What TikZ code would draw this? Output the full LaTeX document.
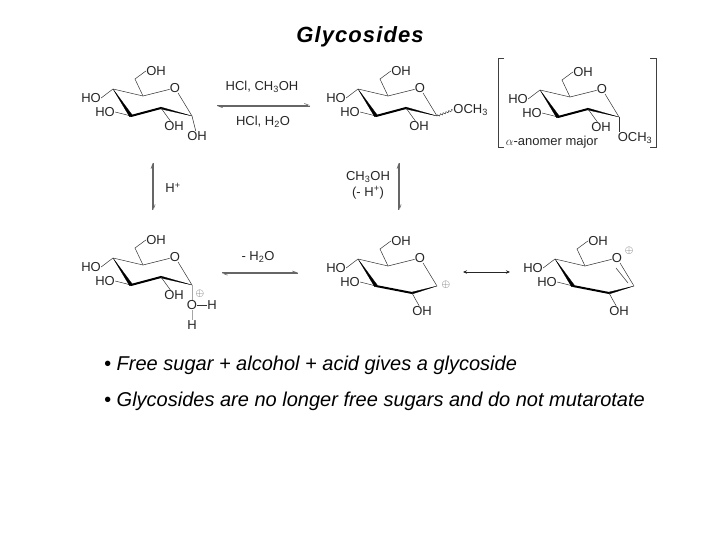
\documentclass[tikz,border=0pt]{standalone}
\usepackage{fontspec}
\setmainfont{Liberation Sans}
\usetikzlibrary{arrows.meta,calc,decorations.pathmorphing}

\tikzset{
  atom/.style={inner sep=0.2pt,font=\fontsize{13}{13}\selectfont,text=black!85},
  cond/.style={inner sep=0pt,font=\fontsize{13}{16}\selectfont,text=black!85,align=center},
  chg/.style={inner sep=0pt,font=\fontsize{11}{11}\selectfont,text=black!70},
  bond/.style={line width=0.5pt,black!80},
  heavy/.style={fill=black,draw=black,line width=0.2pt,line join=round},
  eqm/.style={line width=0.6pt,black!60},
  tipr/.style={-{Straight Barb[left,length=4pt,width=3pt]}},
  bracket/.style={line width=0.7pt,black!75},
  bul/.style={inner sep=0pt,anchor=west,font=\fontsize{20}{20}\selectfont\itshape},
}

% top left half of the ring, same in all six
\newcommand{\halfring}[3]{
\begin{scope}[shift={(#1,#2)},name prefix=#3-]
\coordinate (c5) at (113,89);
\coordinate (c4) at (143,96);
\coordinate (c3) at (131,116);
\coordinate (c6) at (135,79);
\node[atom] (o) at (175,88) {O};
\node[atom] (oh6) at (156,71) {OH};
\node[atom] (ho4) at (91,98) {HO};
\node[atom] (ho3) at (105,112) {HO};
\draw[bond] (c5) -- (c4) -- (o);
\draw[bond] (c4) -- (c6) -- (oh6.west);
\draw[bond] (c5) -- (ho4.east);
\draw[bond] (c3) -- (ho3.east);
\fill[heavy] (c5) -- ($(c3)+(-1.4,0.8)$) -- ($(c3)+(1.4,-0.8)$) -- cycle;
\end{scope}
}

% lower edge of the chair form
\newcommand{\chairedge}[3]{
\begin{scope}[shift={(#1,#2)},name prefix=#3-]
\coordinate (c2) at (161,108);
\coordinate (c1) at (192,116);
\draw[line width=2pt,line cap=round] (c3) -- (c2);
\fill[heavy] ($(c2)+(-0.3,-1)$) -- (c1) -- ($(c2)+(-0.3,1)$) -- cycle;
\draw[bond] (o) -- (c1);
\node[atom] (oh2) at (174,126) {OH};
\draw[bond] (c2) -- (oh2);
\end{scope}
}

% lower edge of the flattened form
\newcommand{\flatedge}[3]{
\begin{scope}[shift={(#1,#2)},name prefix=#3-]
\coordinate (c2) at (167,123);
\coordinate (c1) at (192,116);
\draw[line width=2pt,line cap=round] (c3) -- (c2);
\fill[heavy] ($(c2)+(0.3,-1)$) -- (c1) -- ($(c2)+(0.3,1)$) -- cycle;
\node[atom] (oh2) at (177,141) {OH};
\draw[bond] (c2) -- (oh2);
\end{scope}
}

\begin{document}
\begin{tikzpicture}[x=1pt,y=-1pt]
\useasboundingbox (0,0) rectangle (720,540);

\node[inner sep=0pt,font=\fontsize{22}{22}\selectfont\bfseries\itshape\addfontfeature{LetterSpace=5}] (title) at (360,37) {Glycosides};

% top row
\halfring{0}{0}{a}
\chairedge{0}{0}{a}
\node[atom] (a-oh1) at (197,136) {OH};
\draw[bond] (a-c1) -- (a-oh1);

\halfring{245}{0}{b}
\chairedge{245}{0}{b}
\node[atom,anchor=west] (b-och) at (453,110) {OCH\textsubscript{3}};
\draw[bond,decorate,decoration={snake,amplitude=0.9pt,segment length=3pt}] (b-c1) -- (b-och.west);

\halfring{427}{1}{c}
\chairedge{427}{1}{c}
\node[atom] (c-och) at (635,138) {OCH\textsubscript{3}};
\draw[bond] (c-c1) -- (c-och.north -| c-c1);
\node[atom] (anomer) at (552,142) {$\alpha$-anomer major};
\draw[bracket] (504,58) -- (498,58) -- (498,147) -- (504,147);
\draw[bracket] (650,58) -- (656,58) -- (656,147) -- (650,147);

% bottom row
\halfring{0}{169}{d}
\chairedge{0}{169}{d}
\node[chg] (d-plus) at (200,294) {$\oplus$};
\node[atom] (d-o) at (192,305) {O};
\node[atom] (d-h1) at (212,305) {H};
\node[atom] (d-h2) at (192,325) {H};
\draw[bond,black!35,line width=0.8pt] (d-c1) -- (d-o);
\draw[bond] (d-o) -- (d-h1);
\draw[bond,black!35,line width=0.8pt] (d-o) -- (d-h2);

\halfring{245}{170}{e}
\flatedge{245}{170}{e}
\draw[bond] (e-o) -- (e-c1);
\node[chg] (e-plus) at (446,285) {$\oplus$};

\halfring{442}{170}{f}
\flatedge{442}{170}{f}
\draw[bond] (f-o) -- (f-c1);
\draw[bond] ($(f-o)+(-1,10)$) -- ($(f-c1)+(-6,-3)$);
\node[chg] (f-plus) at (629,251) {$\oplus$};

% arrows
\coordinate (r1a) at (217,105);
\coordinate (r1b) at (310,105);
\coordinate (r2a) at (310,106.2);
\coordinate (r2b) at (217,106.2);
\draw[eqm,tipr] (r1a) -- (r1b);
\draw[eqm,tipr] (r2a) -- (r2b);
\node[cond] (hcl1) at (262,87) {HCl, CH\textsubscript{3}OH};
\node[cond] (hcl2) at (263,122) {HCl, H\textsubscript{2}O};

\coordinate (v1a) at (152.5,210);
\coordinate (v1b) at (152.5,163);
\coordinate (v2a) at (153.7,163);
\coordinate (v2b) at (153.7,210);
\draw[eqm,tipr] (v1a) -- (v1b);
\draw[eqm,tipr] (v2a) -- (v2b);
\node[cond] (hplus) at (173,188) {H\textsuperscript{+}};

\coordinate (v3a) at (398.5,210);
\coordinate (v3b) at (398.5,163);
\coordinate (v4a) at (399.7,163);
\coordinate (v4b) at (399.7,210);
\draw[eqm,tipr] (v3a) -- (v3b);
\draw[eqm,tipr] (v4a) -- (v4b);
\node[cond] (meoh) at (368,185) {CH\textsubscript{3}OH\\(- H\textsuperscript{+})};

\coordinate (r3a) at (222,272.5);
\coordinate (r3b) at (298,272.5);
\coordinate (r4a) at (298,273.7);
\coordinate (r4b) at (222,273.7);
\draw[eqm,tipr] (r3a) -- (r3b);
\draw[eqm,tipr] (r4a) -- (r4b);
\node[cond] (water) at (258,257) {- H\textsubscript{2}O};

\coordinate (ra) at (463,272);
\coordinate (rb) at (510,272);
\draw[line width=0.7pt,black!85,{Stealth[length=4pt,width=3.5pt]}-{Stealth[length=4pt,width=3.5pt]}] (ra) -- (rb);

% bullets
\node[bul] (line1) at (104,365) {• Free sugar + alcohol + acid gives a glycoside};
\node[bul] (line2) at (104,401) {• Glycosides are no longer free sugars and do not mutarotate};
\end{tikzpicture}
\end{document}
